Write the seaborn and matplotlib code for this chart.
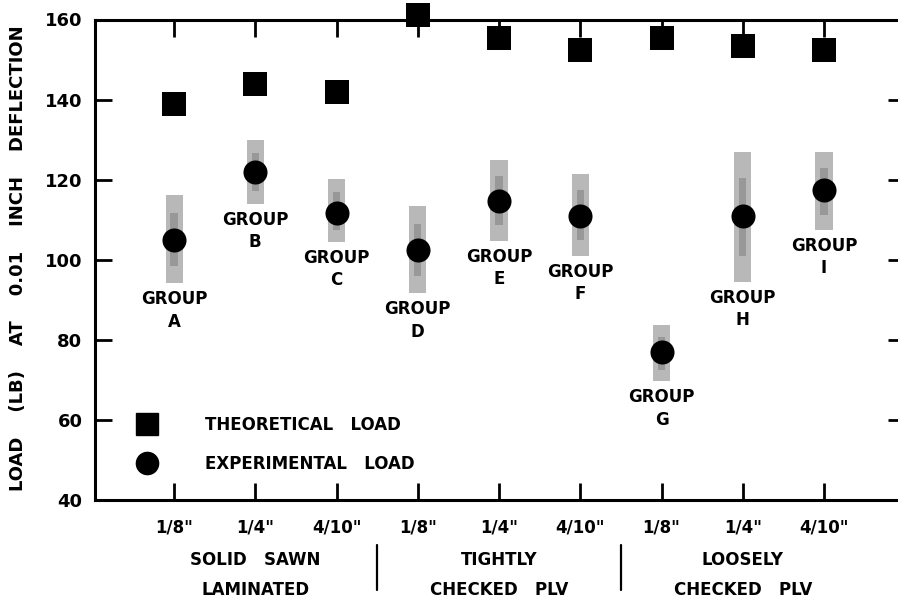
import numpy as np
import pandas as pd
import matplotlib
matplotlib.use("Agg")
import matplotlib.pyplot as plt
import matplotlib.transforms as mtransforms
from matplotlib.lines import Line2D
import seaborn as sns

# ---- data ----
groups = ["A", "B", "C", "D", "E", "F", "G", "H", "I"]
spacing_labels = ['1/8"', '1/4"', '4/10"', '1/8"', '1/4"', '4/10"', '1/8"', '1/4"', '4/10"']
theoretical = [139.0, 144.0, 142.0, 161.0, 155.5, 152.5, 155.5, 153.5, 152.5]
experimental = [105.0, 122.0, 111.7, 102.4, 114.6, 110.9, 76.9, 110.9, 117.4]
range_low = [94.1, 113.9, 104.4, 91.6, 104.6, 100.9, 69.6, 94.4, 107.4]
range_high = [116.1, 130.0, 120.1, 113.4, 125.0, 121.5, 83.6, 126.9, 126.9]
y_ticks = [40, 60, 80, 100, 120, 140, 160]
category_line1 = ["SOLID   SAWN", "TIGHTLY", "LOOSELY"]
category_line2 = ["LAMINATED", "CHECKED   PLV", "CHECKED   PLV"]

sns.set_theme(style="white")
plt.rcParams["font.family"] = ["DejaVu Sans"]
plt.rcParams["font.weight"] = "bold"
plt.rcParams["text.color"] = "black"
plt.rcParams["axes.labelcolor"] = "black"
plt.rcParams["xtick.color"] = "black"
plt.rcParams["ytick.color"] = "black"

x = np.arange(len(groups))
df = pd.DataFrame({"x": x, "theo": theoretical, "exp": experimental,
                   "lo": range_low, "hi": range_high})

fig = plt.figure(figsize=(8.98, 6.03), dpi=100)
ax = fig.add_axes([95 / 898, 1 - 500 / 603, 1 - 95 / 898, (500 - 19.5) / 603])

# shaded ranges
ax.bar(df["x"], df["hi"] - df["lo"], bottom=df["lo"], width=0.21,
       color="#b8b8b8", edgecolor="none", zorder=2)
ax.bar(df["x"], (df["hi"] - df["lo"]) * 0.6, bottom=df["lo"] + (df["hi"] - df["lo"]) * 0.2,
       width=0.09, color="#7a7a7a", edgecolor="none", zorder=2, alpha=0.5)

sns.scatterplot(data=df, x="x", y="theo", marker="s", s=300, color="black",
                edgecolor="black", linewidth=0, ax=ax, zorder=4, clip_on=False)
sns.scatterplot(data=df, x="x", y="exp", marker="o", s=300, color="black",
                edgecolor="black", linewidth=0, ax=ax, zorder=4)

# group labels
for xi, lo, g in zip(x, range_low, groups):
    ax.annotate("GROUP\n" + g, xy=(xi, lo), xytext=(0, -5), textcoords="offset points",
                ha="center", va="top", fontsize=12, fontweight="bold", color="black",
                linespacing=1.3, multialignment="center")

ax.set_xlim(-0.973, 8.911)
ax.set_ylim(40, 160)
ax.set_xticks(x)
ax.set_xticklabels(spacing_labels, fontsize=12, fontweight="bold")
ax.set_yticks(y_ticks)
ax.set_yticklabels([str(v) for v in y_ticks], fontsize=13, fontweight="bold")
ax.set_xlabel("")
ax.set_ylabel("")

ax.tick_params(axis="both", which="both", direction="in", color="black", width=2,
               length=12, labelcolor="black")
ax.tick_params(axis="y", pad=9, left=True, right=True)
ax.tick_params(axis="x", pad=13, bottom=True, top=True)
for t in ax.yaxis.get_major_ticks():
    t.tick2line.set_markersize(7)

for side in ["left", "top", "bottom"]:
    ax.spines[side].set_visible(True)
    ax.spines[side].set_color("black")
    ax.spines[side].set_linewidth(2.2)
ax.spines["right"].set_visible(False)

# category labels below axis
trans = mtransforms.blended_transform_factory(ax.transData, ax.transAxes)
for xc, l1, l2 in zip([1, 4, 7], category_line1, category_line2):
    ax.text(xc, -0.125, l1, transform=trans, ha="center", va="center",
            fontsize=12, fontweight="bold", color="black")
    ax.text(xc, -0.187, l2, transform=trans, ha="center", va="center",
            fontsize=12, fontweight="bold", color="black")
for xs in [2.5, 5.5]:
    ax.plot([xs, xs], [-0.094, -0.187], transform=trans, color="black",
            lw=1.6, clip_on=False)

# y label
fig.text(18 / 898, 1 - 258 / 603, "LOAD    (LB)    AT    0.01    INCH    DEFLECTION",
         rotation=90, ha="center", va="center", fontsize=13, fontweight="bold",
         color="black")

# legend
handles = [Line2D([], [], marker="s", color="black", linestyle="none", markersize=16),
           Line2D([], [], marker="o", color="black", linestyle="none", markersize=16)]
leg = ax.legend(handles, ["THEORETICAL   LOAD", "EXPERIMENTAL   LOAD"], frameon=False,
                loc="lower left", bbox_to_anchor=(0.025, 0.025), handletextpad=2.5,
                labelspacing=1.25, prop={"size": 12, "weight": "bold"})
for txt in leg.get_texts():
    txt.set_color("black")

fig.savefig("out.png", dpi=100)
